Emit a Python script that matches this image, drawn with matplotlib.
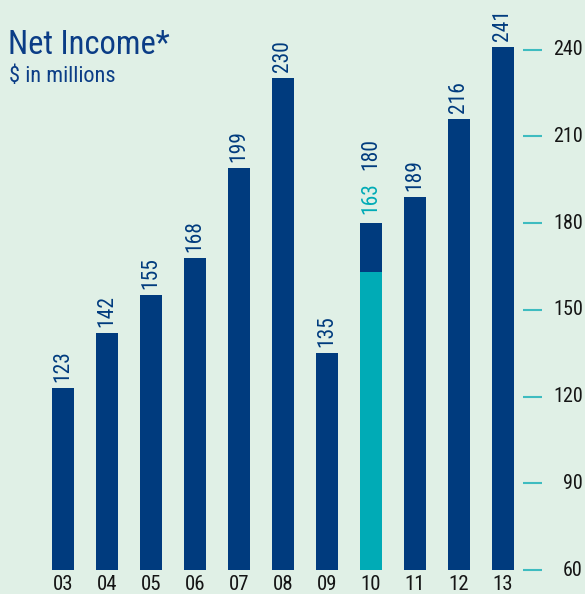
import matplotlib
matplotlib.use("Agg")
import matplotlib.pyplot as plt
import numpy as np

years = ["03", "04", "05", "06", "07", "08", "09", "10", "11", "12", "13"]
income = [123, 142, 155, 168, 199, 230, 135, 180, 189, 216, 241]
income_10_excl = 163          # teal part of the 2010 bar
axis_ticks = [60, 90, 120, 150, 180, 210, 240]

navy = "#003B7E"
teal = "#00ABB6"
bg = "#E0F0E6"

plt.rcParams['font.family'] = ['Roboto Condensed', 'DejaVu Sans']

fig = plt.figure(figsize=(5.85, 5.94), dpi=100, facecolor=bg)
ax = fig.add_axes([0, 0, 1, 1])
ax.set_facecolor(bg)

# pixel layout: bar centers at 62.7 + 44*i, value 60 at y=570, 240 at y=49.5
px_per_unit = (570 - 49.5) / 180.0
ax.set_xlim(-62.7 / 44, (585 - 62.7) / 44)
ax.set_ylim(60 - 24 / px_per_unit, 240 + 49.5 / px_per_unit)
ax.axis("off")

x = np.arange(len(years))
base = 60
heights = [v - base for v in income]
ax.bar(x, heights, bottom=base, width=0.5, color=navy, zorder=2)
i10 = years.index("10")
ax.bar(x[i10], income_10_excl - base, bottom=base, width=0.5, color=teal, zorder=3)

off = 6 / px_per_unit
for xi, v, lab in zip(x, income, years):
    if lab == "10":
        ax.text(xi, v + 9 / px_per_unit, str(income_10_excl), rotation=90, ha="center",
                va="bottom", fontsize=15.5, color=teal)
        ax.text(xi, v + 53 / px_per_unit, str(v), rotation=90, ha="center",
                va="bottom", fontsize=15.5, color=navy)
    else:
        ax.text(xi, v + off, str(v), rotation=90, ha="center", va="bottom",
                fontsize=15.5, color=navy)
    ax.text(xi, base - 15 / px_per_unit, lab, ha="center", va="center",
            fontsize=15, color="#151515")

# right-hand scale with short teal dashes
x0 = (523 - 62.7) / 44
x1 = (542 - 62.7) / 44
xl = (583 - 62.7) / 44
for t in axis_ticks:
    ax.plot([x0, x1], [t, t], color="#3EBCC0", lw=1.5, solid_capstyle="butt")
    ax.text(xl, t, str(t), ha="right", va="center", fontsize=14.5, color="#151515")

fig.text(8 / 585, 1 - 45 / 594, "Net Income*", fontsize=23.5, color="#0B3D86",
         va="center", ha="left")
fig.text(9 / 585, 1 - 77 / 594, "$ in millions", fontsize=16, color="#0B3D86",
         va="center", ha="left")

fig.savefig("out.png", dpi=100, facecolor=bg)
